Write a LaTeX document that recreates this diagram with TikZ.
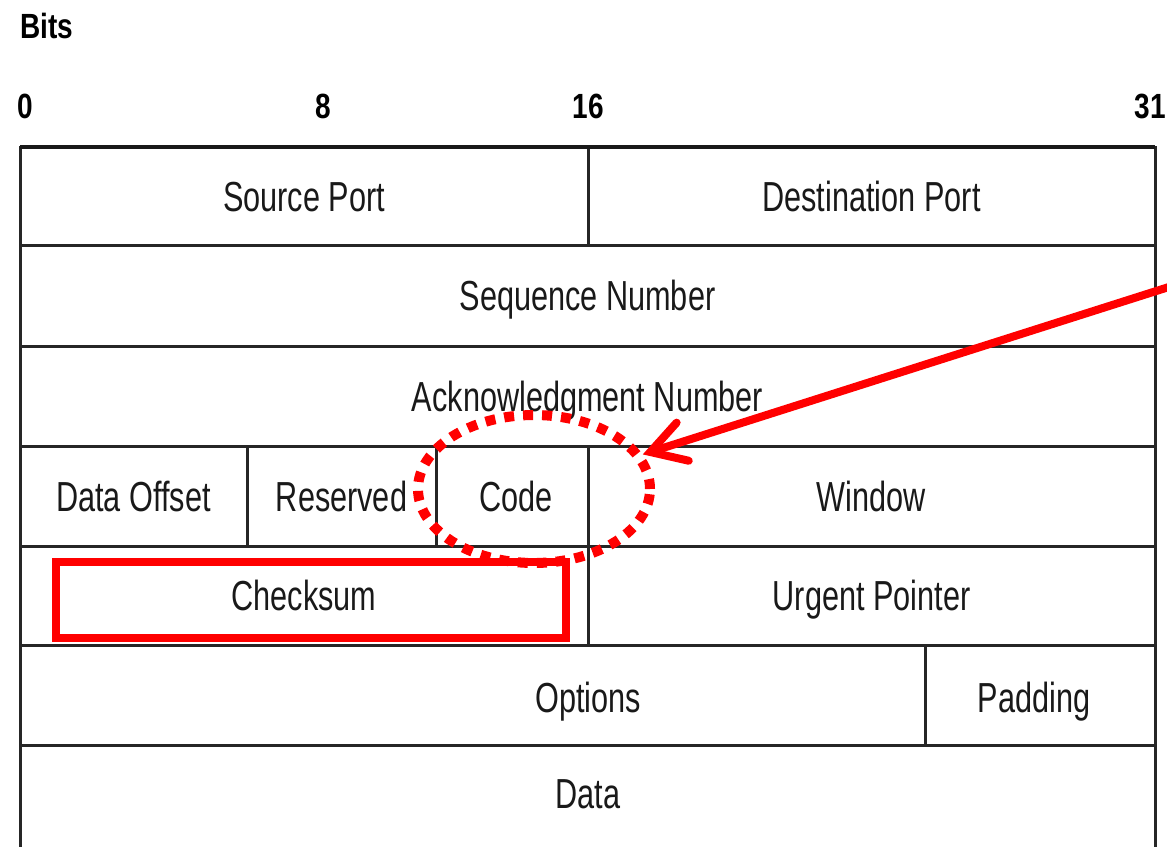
\documentclass[tikz,border=0pt]{standalone}
\usepackage{fontspec}
\setmainfont{Liberation Sans}
\newfontfamily\condfont[FakeStretch=0.73]{Liberation Sans}
\newfontfamily\condbold[FakeStretch=0.8]{Liberation Sans Bold}
\usetikzlibrary{shapes.geometric,arrows.meta}
\begin{document}
\begin{tikzpicture}[x=1pt,y=-1pt,
  cell/.style={draw=black!85, line width=3pt, rectangle, inner sep=0pt, outer sep=0pt,
    font=\condfont\fontsize{42}{50}\selectfont, text=black!90,
    text height=30pt, text depth=-4pt},
  lbl/.style={font=\condfont\fontsize{42}{50}\selectfont, text=black!90, inner sep=0pt,
    text height=30pt, text depth=-4pt},
  bitlbl/.style={font=\condbold\fontsize{35}{40}\selectfont, inner sep=0pt, anchor=base},
  redbox/.style={draw=red, line width=8pt, rectangle, inner sep=0pt},
  redell/.style={draw=red, line width=10pt, ellipse, inner sep=0pt, dash pattern=on 10pt off 9pt},
  redarrow/.style={draw=red, line width=8pt, line cap=round,
    -{Straight Barb[length=34pt,width=40pt,line cap=round]}}
]
\useasboundingbox (0,0) rectangle (1167,846);
\clip (0,0) rectangle (1167,846);

% bit labels
\node[bitlbl, anchor=base west] (bits) at (20,38) {Bits};
\node[bitlbl] (b0) at (25,118) {0};
\node[bitlbl] (b8) at (323,118) {8};
\node[bitlbl] (b16) at (588,118) {16};
\node[bitlbl] (b31) at (1150,118) {31};

% row 1
\node[cell, minimum width=568pt, minimum height=98pt] (src) at (304,196) {Source Port};
\node[cell, minimum width=567pt, minimum height=98pt] (dst) at (871.5,196) {Destination Port};
% row 2
\node[cell, minimum width=1135pt, minimum height=101pt] (seq) at (587.5,295.5) {Sequence Number};
% row 3
\node[cell, minimum width=1135pt, minimum height=100pt] (ack) at (587.5,396) {Acknowledgment Number};
% row 4
\node[cell, minimum width=227pt, minimum height=100pt] (doff) at (133.5,496) {Data Offset};
\node[cell, minimum width=189pt, minimum height=100pt] (res) at (341.5,496) {Reserved};
\node[cell, minimum width=152pt, minimum height=100pt] (code) at (512,496) {};
\node[lbl] (codelbl) at (516,496) {Code};
\node[cell, minimum width=567pt, minimum height=100pt] (win) at (871.5,496) {Window};
% row 5
\node[cell, minimum width=568pt, minimum height=99pt] (chk) at (304,595.5) {Checksum};
\node[cell, minimum width=567pt, minimum height=99pt] (urg) at (871.5,595.5) {Urgent Pointer};
% row 6
\node[cell, minimum width=905pt, minimum height=100pt] (opt) at (472.5,695) {};
\node[lbl] (optlbl) at (588,697) {Options};
\node[cell, minimum width=230pt, minimum height=100pt] (pad) at (1040,695) {};
\node[lbl] (padlbl) at (1034,697) {Padding};
% row 7
\node[cell, minimum width=1135pt, minimum height=120pt] (data) at (587.5,805) {};
\node[lbl] (datalbl) at (588,793) {Data};
% thicker top border
\draw[line width=4.5pt, black!90] (src.north west) -- (dst.north east);

% red highlights
\node[redbox, minimum width=510pt, minimum height=76pt] (chkbox) at (311,600) {};
\node[redell, minimum width=232pt, minimum height=148pt] (ell) at (534,489) {};
\coordinate (arrstart) at (1172,286);
\draw[redarrow] (arrstart) -- (ell);
\end{tikzpicture}
\end{document}
